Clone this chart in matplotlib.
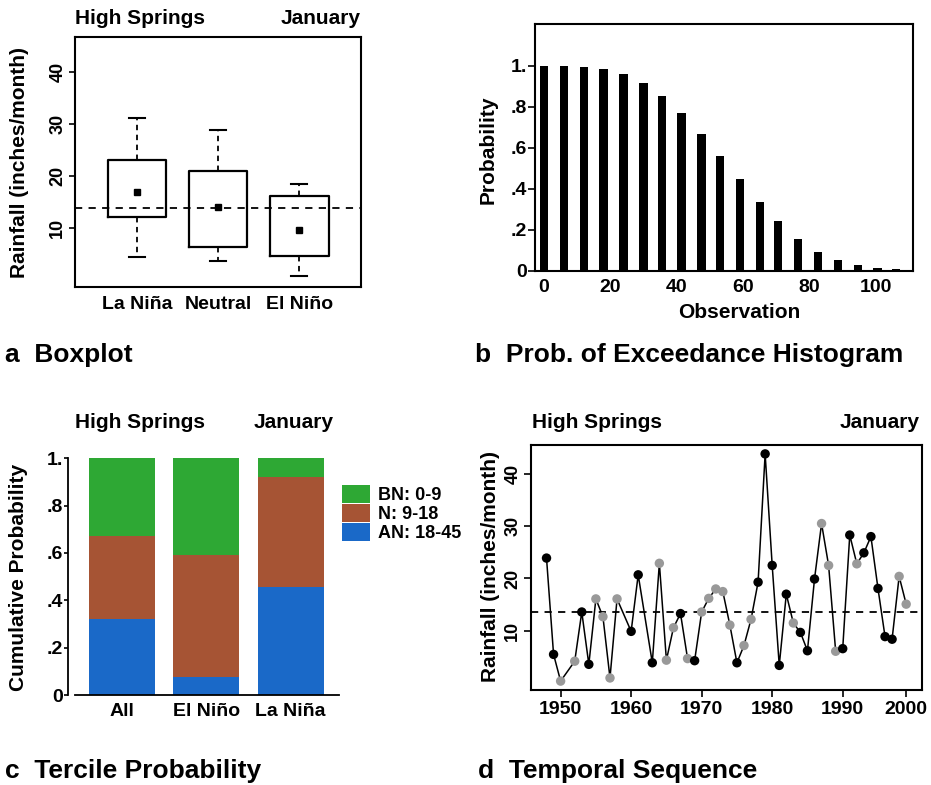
import matplotlib
matplotlib.use("Agg")
import matplotlib.pyplot as plt
from matplotlib.patches import Patch
import numpy as np

plt.rcParams['font.family'] = ['Liberation Sans', 'DejaVu Sans']
plt.rcParams['font.weight'] = 'bold'
plt.rcParams['axes.labelweight'] = 'bold'

# ---------------- data ----------------
# (a) boxplot
box_cats = ['La Niña', 'Neutral', 'El Niño']
box_whislo = [4.5, 3.7, 0.7]
box_q1 = [12.1, 6.35, 4.7]
box_q3 = [23.1, 21.0, 16.1]
box_whishi = [31.1, 28.8, 18.4]
box_mean = [17.0, 14.0, 9.55]
box_ref = 13.8

# (b) probability of exceedance histogram
obs_pos = [0, 6, 12, 18, 24, 30, 35.5, 41.5, 47.5, 53, 59, 65, 70.5, 76.5, 82.5, 88.5, 94.5, 100.5, 106]
obs_prob = [1.0, 1.0, 0.993, 0.982, 0.959, 0.917, 0.854, 0.769, 0.668, 0.561,
            0.447, 0.335, 0.242, 0.156, 0.093, 0.054, 0.028, 0.015, 0.008]

# (c) tercile probability
terc_cats = ['All', 'El Niño', 'La Niña']
terc_AN = [0.32, 0.075, 0.455]
terc_N = [0.35, 0.515, 0.465]
terc_BN = [0.33, 0.41, 0.08]
terc_labels = ['BN: 0-9', 'N: 9-18', 'AN: 18-45']

# (d) temporal sequence
years = [1948, 1949, 1950, 1952, 1953, 1954, 1955, 1956, 1957, 1958, 1960, 1961,
         1963, 1964, 1965, 1966, 1967, 1968, 1969, 1970, 1971, 1972, 1973, 1974,
         1975, 1976, 1977, 1978, 1979, 1980, 1981, 1982, 1983, 1984, 1985, 1986,
         1987, 1988, 1989, 1990, 1991, 1992, 1993, 1994, 1995, 1996, 1997, 1998, 1999]
rain = [23.9, 5.5, 0.4, 4.2, 13.6, 3.6, 16.1, 12.7, 1.0, 16.1, 9.9, 20.7,
        3.9, 22.9, 4.4, 10.6, 13.3, 4.7, 4.3, 13.6, 16.2, 18.0, 17.5, 11.1,
        3.9, 7.2, 12.2, 19.3, 43.8, 22.5, 3.4, 17.0, 11.5, 9.7, 6.2, 19.9,
        30.5, 22.5, 6.1, 6.6, 28.3, 22.8, 24.9, 28.0, 18.1, 8.9, 8.4, 20.4, 15.1]
gray_pt = [0, 0, 1, 1, 0, 0, 1, 1, 1, 1, 0, 0,
           0, 1, 1, 1, 0, 1, 0, 1, 1, 1, 1, 1,
           0, 1, 1, 0, 0, 0, 0, 0, 1, 0, 0, 0,
           1, 1, 1, 0, 0, 1, 0, 0, 0, 0, 0, 1, 1]
rain_ref = 13.6
# tick positions as drawn in the reference (last label sits on the final observation)
year_tick_pos = [1950, 1960, 1970, 1980, 1990, 1999]
year_tick_lab = ['1950', '1960', '1970', '1980', '1990', '2000']

# ---------------- figure ----------------
W, H = 931, 785
fig = plt.figure(figsize=(W / 100, H / 100), dpi=100)


def ax_rect(l, t, r, b):
    return fig.add_axes([l / W, 1 - b / H, (r - l) / W, (b - t) / H])


def ftext(x, y, s, **kw):
    return fig.text(x / W, 1 - y / H, s, **kw)


def fpos(x, y):
    return (x / W, 1 - y / H)


TFS = 15   # titles
LFS = 15   # axis labels
KFS = 13   # tick labels
CFS = 19   # captions
FW = 1.5

GREEN = '#2ea834'
BROWN = '#a65434'
BLUE = '#1a69c8'

# ---------------- (a) ----------------
axa = ax_rect(74.7, 37.3, 361, 286.7)
pos_a = np.arange(1, len(box_cats) + 1)
stats = []
for i in range(len(box_cats)):
    stats.append(dict(whislo=box_whislo[i], q1=box_q1[i], med=box_mean[i],
                      q3=box_q3[i], whishi=box_whishi[i], mean=box_mean[i],
                      fliers=[], label=box_cats[i]))
axa.bxp(stats, positions=pos_a, widths=0.72, capwidths=0.2, showmeans=True,
        showfliers=False,
        boxprops=dict(color='black', linewidth=1.6),
        whiskerprops=dict(color='black', linewidth=1.3, linestyle=(0, (3, 2.5))),
        capprops=dict(color='black', linewidth=1.5),
        medianprops=dict(linewidth=0, alpha=0),
        meanprops=dict(marker='s', markerfacecolor='black', markeredgecolor='black',
                       markersize=5))
axa.axhline(box_ref, color='black', linewidth=1.3, linestyle=(0, (4, 3.5)))
axa.set_xlim(0.236, 3.76)
axa.set_ylim(-1.3, 46.7)
axa.set_yticks([10, 20, 30, 40])
axa.set_xticks(pos_a)
axa.set_xticklabels(box_cats, fontsize=14)
axa.tick_params(axis='x', length=0, pad=7)
axa.tick_params(axis='y', length=4, width=1.2, labelsize=KFS, labelrotation=90, pad=2)
for lb in axa.get_yticklabels():
    lb.set_va('center')
axa.set_ylabel('Rainfall (inches/month)', fontsize=LFS, va='center')
axa.yaxis.set_label_coords(*fpos(20, 162), transform=fig.transFigure)
for s in axa.spines.values():
    s.set_linewidth(FW)
ftext(75, 18, 'High Springs', fontsize=TFS, ha='left', va='center')
ftext(361, 18, 'January', fontsize=TFS, ha='right', va='center')
ftext(5, 355, 'a  Boxplot', fontsize=CFS, ha='left', va='center')

# ---------------- (b) ----------------
axb = ax_rect(535, 24, 913.3, 270.7)
axb.bar(obs_pos, obs_prob, width=2.6, color='black')
axb.set_xlim(-2.7, 111.2)
axb.set_ylim(0, 1.203)
axb.set_yticks([0, 0.2, 0.4, 0.6, 0.8, 1.0])
axb.set_yticklabels(['0', '.2', '.4', '.6', '.8', '1.'])
axb.set_xticks([0, 20, 40, 60, 80, 100])
axb.tick_params(axis='x', length=0, pad=6, labelsize=KFS + 1)
axb.tick_params(axis='y', length=5, width=1.2, labelsize=KFS + 1, pad=1)
axb.set_ylabel('Probability', fontsize=LFS, va='center')
axb.yaxis.set_label_coords(*fpos(488, 150), transform=fig.transFigure)
axb.set_xlabel('Observation', fontsize=LFS, va='center')
axb.xaxis.set_label_coords(*fpos(739, 313), transform=fig.transFigure)
for s in axb.spines.values():
    s.set_linewidth(FW)
ftext(475, 355, 'b  Prob. of Exceedance Histogram', fontsize=CFS, ha='left', va='center')

# ---------------- (c) ----------------
axc = ax_rect(75, 458.3, 339.3, 695)
xc = np.arange(len(terc_cats))
an = np.array(terc_AN)
nn = np.array(terc_N)
bn = np.array(terc_BN)
axc.bar(xc, an, width=0.78, color=BLUE, linewidth=0)
axc.bar(xc, nn, bottom=an, width=0.78, color=BROWN, linewidth=0)
axc.bar(xc, bn, bottom=an + nn, width=0.78, color=GREEN, linewidth=0)
axc.set_xlim(-0.557, 2.577)
axc.set_ylim(0, 1.0)
axc.spines['top'].set_visible(False)
axc.spines['right'].set_visible(False)
axc.spines['left'].set_position(('outward', 4.8))
axc.spines['left'].set_bounds(0, 1)
axc.spines['left'].set_linewidth(1.3)
axc.spines['bottom'].set_linewidth(1.3)
axc.set_yticks([0, 0.2, 0.4, 0.6, 0.8, 1.0])
axc.set_yticklabels(['0', '.2', '.4', '.6', '.8', '1.'])
axc.set_xticks(xc)
axc.set_xticklabels(terc_cats, fontsize=14)
axc.tick_params(axis='x', length=0, pad=6)
axc.tick_params(axis='y', length=3, width=1.2, labelsize=KFS + 1, pad=1)
axc.set_ylabel('Cumulative Probability', fontsize=LFS, va='center')
axc.yaxis.set_label_coords(*fpos(19, 577), transform=fig.transFigure)
handles = [Patch(facecolor=GREEN, edgecolor='none'),
           Patch(facecolor=BROWN, edgecolor='none'),
           Patch(facecolor=BLUE, edgecolor='none')]
fs_leg = 13
axc.legend(handles, terc_labels, loc='upper left', bbox_to_anchor=fpos(342, 485),
           bbox_transform=fig.transFigure, frameon=False, fontsize=fs_leg,
           handlelength=28 / (fs_leg * 100 / 72), handleheight=21 / (fs_leg * 100 / 72),
           labelspacing=0, borderpad=0, borderaxespad=0,
           handletextpad=7.7 / (fs_leg * 100 / 72))
ftext(75, 423, 'High Springs', fontsize=TFS, ha='left', va='center')
ftext(334, 423, 'January', fontsize=TFS, ha='right', va='center')
ftext(5, 771, 'c  Tercile Probability', fontsize=CFS, ha='left', va='center')

# ---------------- (d) ----------------
axd = ax_rect(531, 445, 921.7, 690)
axd.plot(years, rain, color='black', linewidth=1.1, zorder=2)
cols = ['#999999' if g else 'black' for g in gray_pt]
axd.scatter(years, rain, s=46, c=cols, zorder=3, linewidths=0)
axd.axhline(rain_ref, color='black', linewidth=1.3, linestyle=(0, (4, 3.5)), zorder=1)
axd.set_xlim(1945.8, 2001.2)
axd.set_ylim(-1.3, 45.5)
axd.set_yticks([10, 20, 30, 40])
axd.set_xticks(year_tick_pos)
axd.set_xticklabels(year_tick_lab)
axd.tick_params(axis='x', length=5, width=1.2, labelsize=KFS + 1, pad=3)
axd.tick_params(axis='y', length=5, width=1.2, labelsize=KFS, labelrotation=90, pad=2)
for lb in axd.get_yticklabels():
    lb.set_va('center')
axd.set_ylabel('Rainfall (inches/month)', fontsize=LFS, va='center')
axd.yaxis.set_label_coords(*fpos(490, 567), transform=fig.transFigure)
for s in axd.spines.values():
    s.set_linewidth(FW)
ftext(531.7, 423, 'High Springs', fontsize=TFS, ha='left', va='center')
ftext(920, 423, 'January', fontsize=TFS, ha='right', va='center')
ftext(478, 771, 'd  Temporal Sequence', fontsize=CFS, ha='left', va='center')

fig.savefig('out.png', dpi=100)
